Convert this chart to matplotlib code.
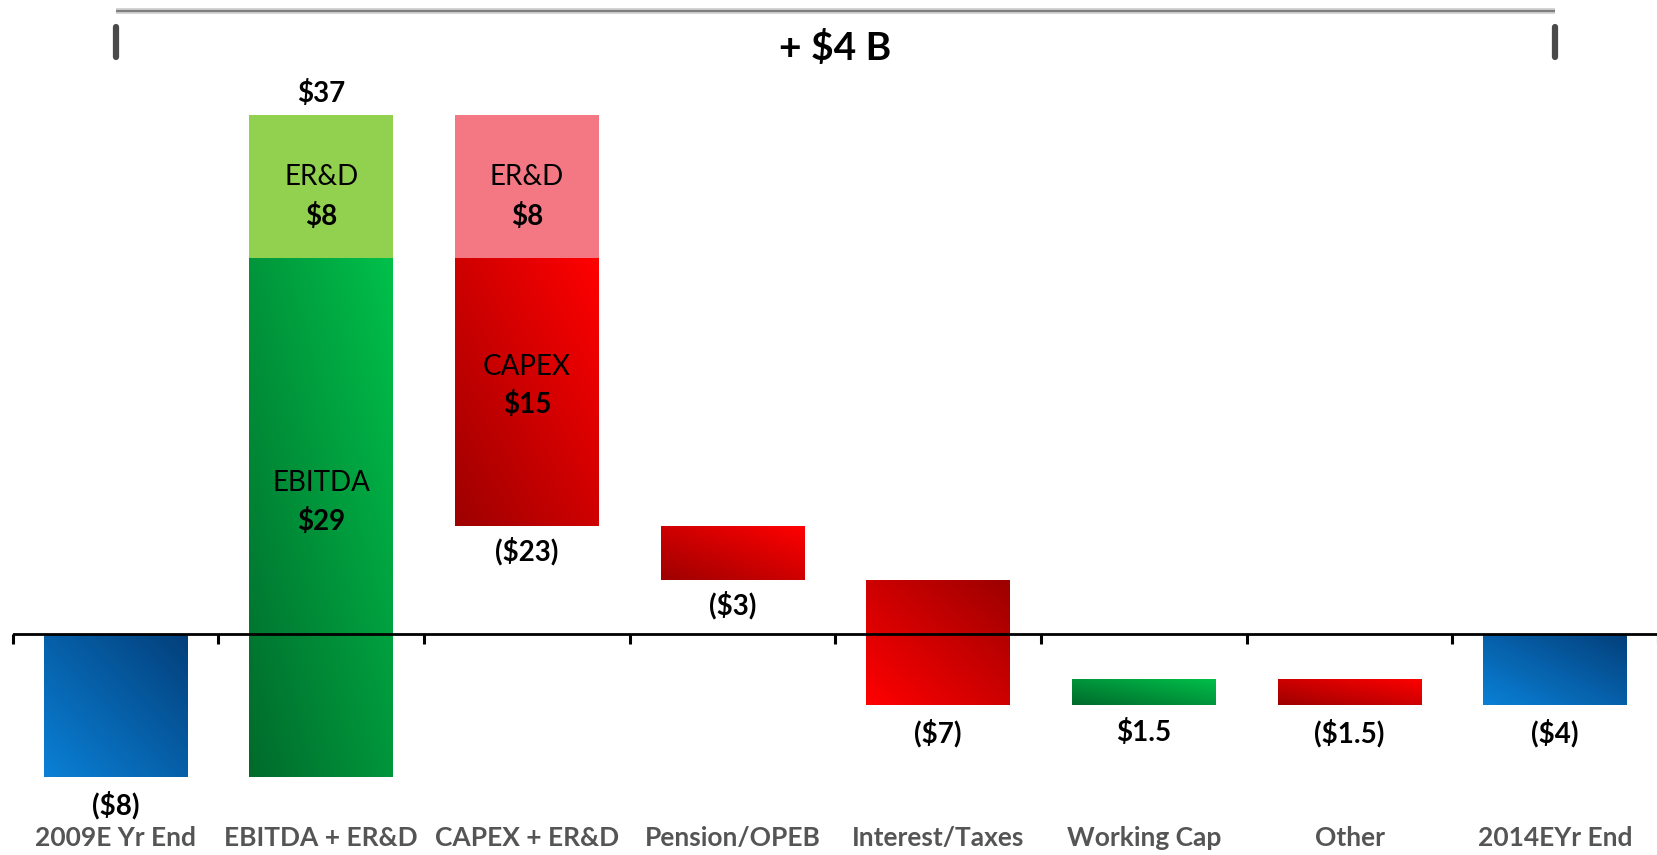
import numpy as np
import matplotlib
matplotlib.use("Agg")
import matplotlib.pyplot as plt
from matplotlib.colors import LinearSegmentedColormap

plt.rcParams['font.family'] = ['Lato', 'DejaVu Sans']

# data (billions of $)
categories = ["2009E Yr End", "EBITDA + ER&D", "CAPEX + ER&D", "Pension/OPEB",
              "Interest/Taxes", "Working Cap", "Other", "2014EYr End"]
start_total = -8
changes = [37, -23, -3, -7, 1.5, -1.5]
end_total = -4
ebitda = 29
erd_in = 8
capex = 15
erd_out = 8
value_labels = ["($8)", "$37", "($23)", "($3)", "($7)", "$1.5", "($1.5)", "($4)"]
bracket_label = "+ $4 B"

# segment spans for every bar: (x, bottom, top)
levels = np.cumsum([start_total] + changes)
x = np.arange(len(categories))
bottoms = [min(0, start_total)]
tops = [max(0, start_total)]
for i, c in enumerate(changes):
    prev = levels[i]
    bottoms.append(min(prev, prev + c))
    tops.append(max(prev, prev + c))
bottoms.append(min(0, end_total))
tops.append(max(0, end_total))

blue = ("#0a80d6", "#033f7a")
green = ("#006b2c", "#00c04a")
red_up = ("#9e0000", "#ff0000")
red_dn = ("#ff0000", "#9c0000")
bar_grad = [blue, None, None, red_up, red_dn, green, red_up, blue]

fig = plt.figure(figsize=(16.58, 8.55), dpi=100)
ax = fig.add_axes([12.7 / 1658, 0, 1 - 12.7 / 1658, 1])
ax.axis('off')

width = 0.70
gy, gx = np.mgrid[0:1:96j, 0:1:96j]
grad = (gx + gy) / 2


def grad_bar(xc, y0, y1, colors):
    cmap = LinearSegmentedColormap.from_list("g", list(colors))
    b = ax.bar(xc, y1 - y0, width, bottom=y0, color=colors[1], lw=0, zorder=2)[0]
    im = ax.imshow(grad, cmap=cmap, origin='lower', aspect='auto', zorder=2,
                   extent=[xc - width / 2, xc + width / 2, y0, y1], vmin=0, vmax=1)
    im.set_clip_path(b)


for i in x:
    if bar_grad[i] is not None:
        grad_bar(i, bottoms[i], tops[i], bar_grad[i])

# stacked inflow / outflow bars
grad_bar(1, bottoms[1], bottoms[1] + ebitda, green)
ax.bar(1, erd_in, width, bottom=bottoms[1] + ebitda, color="#92d050", lw=0, zorder=2)
ax.bar(2, erd_out, width, bottom=tops[2] - erd_out, color="#f47784", lw=0, zorder=2)
grad_bar(2, bottoms[2], bottoms[2] + capex, red_up)

ax.set_xlim(-0.5, 7.5)
ax.set_ylim(-12.35, 35.4)

# axis line and ticks
ax.axhline(0, color="black", lw=2, zorder=5)
ax.vlines(np.arange(-0.5, 8, 1), -0.55, 0, color="black", lw=2.2, zorder=5, clip_on=False)

# labels
vfont = dict(fontsize=20, fontweight='bold', ha='center', color='black', zorder=6)
ax.text(1, tops[1] + 0.4, value_labels[1], va='bottom', **vfont)
ax.text(2, bottoms[2] - 0.6, value_labels[2], va='top', **vfont)
ax.text(3, bottoms[3] - 0.6, value_labels[3], va='top', **vfont)
for i in [0, 4, 5, 6, 7]:
    ax.text(i, bottoms[i] - 0.75, value_labels[i], va='top', **vfont)

ax.text(1, 25.5, "ER&D", fontsize=20, ha='center', va='center')
ax.text(1, 23.3, f"${erd_in}", fontsize=20, fontweight='bold', ha='center', va='center')
ax.text(1, 8.4, "EBITDA", fontsize=20, ha='center', va='center')
ax.text(1, 6.3, f"${ebitda}", fontsize=20, fontweight='bold', ha='center', va='center')
ax.text(2, 25.5, "ER&D", fontsize=20, ha='center', va='center')
ax.text(2, 23.3, f"${erd_out}", fontsize=20, fontweight='bold', ha='center', va='center')
ax.text(2, 14.9, "CAPEX", fontsize=20, ha='center', va='center')
ax.text(2, 12.8, f"${capex}", fontsize=20, fontweight='bold', ha='center', va='center')

for i, c in enumerate(categories):
    ax.text(i, -11.4, c, fontsize=19, fontweight='bold', color="#555555",
            ha='center', va='center')

# bracket on top
ax.plot([0, 7], [34.8, 34.8], color="#c9c9c9", lw=4, solid_capstyle='butt')
ax.plot([0, 7], [34.8, 34.8], color="#707070", lw=1.2, solid_capstyle='butt')
for xb in [0, 7]:
    ax.plot([xb, xb], [32.2, 33.9], color="#4a4a4a", lw=4.5, solid_capstyle='round')
ax.text(3.5, 32.7, bracket_label, fontsize=28, fontweight='bold', ha='center', va='center')

fig.savefig("out.png", dpi=100)
